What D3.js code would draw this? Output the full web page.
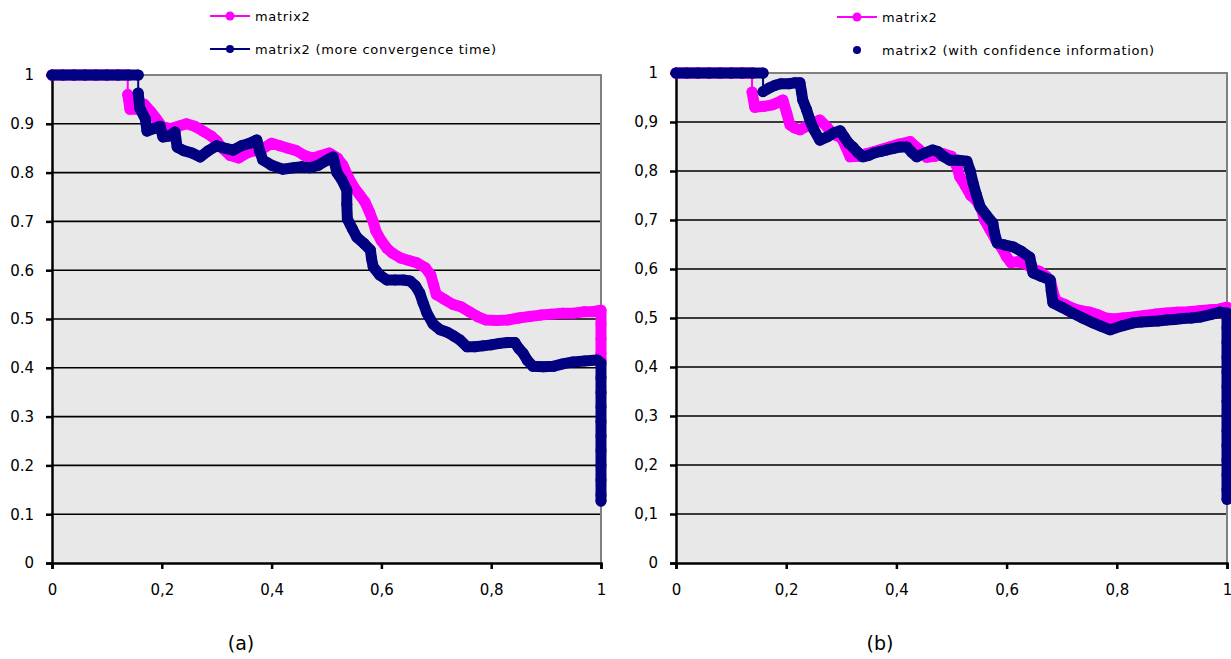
<!DOCTYPE html>
<html><head><meta charset="utf-8">
<script src="https://cdn.jsdelivr.net/npm/d3@7"></script>
<style>body{margin:0;background:#fff}svg{display:block}</style>
</head><body>
<svg id="fig" width="1231" height="659"></svg>
<script>
// Axis ticks and labels
const xTicks = [0, 0.2, 0.4, 0.6, 0.8, 1];
const xTickLabels = ["0", "0,2", "0,4", "0,6", "0,8", "1"];
const yTicks = [0, 0.1, 0.2, 0.3, 0.4, 0.5, 0.6, 0.7, 0.8, 0.9, 1];
const yTickLabelsA = ["0", "0.1", "0.2", "0.3", "0.4", "0.5", "0.6", "0.7", "0.8", "0.9", "1"];
const yTickLabelsB = ["0", "0,1", "0,2", "0,3", "0,4", "0,5", "0,6", "0,7", "0,8", "0,9", "1"];

// Panel (a): matrix2
const pinkA = [[0,1],[0.02,1],[0.04,1],[0.06,1],[0.08,1],[0.10,1],[0.12,1],[0.138,1],
  [0.138,0.96],[0.142,0.93],[0.155,0.93],[0.168,0.94],[0.18,0.925],[0.19,0.91],[0.2,0.895],
  [0.215,0.89],[0.23,0.895],[0.245,0.9],[0.26,0.895],[0.275,0.885],[0.29,0.875],[0.3,0.865],
  [0.31,0.85],[0.325,0.835],[0.34,0.83],[0.355,0.84],[0.37,0.845],[0.385,0.85],[0.4,0.86],
  [0.415,0.855],[0.43,0.85],[0.445,0.845],[0.46,0.835],[0.475,0.83],[0.49,0.835],[0.505,0.84],
  [0.52,0.83],[0.53,0.815],[0.54,0.79],[0.55,0.77],[0.56,0.755],[0.57,0.74],[0.578,0.72],
  [0.585,0.7],[0.59,0.68],[0.6,0.66],[0.61,0.645],[0.62,0.635],[0.635,0.625],[0.65,0.62],
  [0.665,0.615],[0.68,0.605],[0.69,0.59],[0.695,0.57],[0.7,0.55],[0.715,0.54],[0.73,0.53],
  [0.745,0.525],[0.76,0.515],[0.775,0.505],[0.79,0.498],[0.81,0.497],[0.83,0.498],[0.85,0.502],
  [0.87,0.505],[0.89,0.508],[0.91,0.51],[0.93,0.512],[0.95,0.512],[0.97,0.515],[0.985,0.515],
  [1,0.518],[1,0.49],[1,0.46],[1,0.43],[1,0.415]];

// Panel (a): matrix2 (more convergence time)
const navyA = [[0,1],[0.02,1],[0.04,1],[0.06,1],[0.08,1],[0.10,1],[0.12,1],[0.14,1],[0.157,1],
  [0.157,0.963],[0.16,0.932],[0.17,0.91],[0.173,0.885],[0.185,0.89],[0.197,0.895],[0.202,0.873],
  [0.213,0.875],[0.224,0.883],[0.228,0.852],[0.24,0.845],[0.255,0.84],[0.27,0.832],[0.285,0.845],
  [0.3,0.855],[0.315,0.85],[0.33,0.846],[0.345,0.855],[0.36,0.86],[0.373,0.867],[0.378,0.845],
  [0.384,0.826],[0.4,0.815],[0.42,0.807],[0.44,0.81],[0.455,0.812],[0.47,0.81],[0.485,0.815],
  [0.5,0.825],[0.512,0.832],[0.519,0.8],[0.528,0.785],[0.537,0.764],[0.537,0.735],[0.538,0.705],
  [0.547,0.685],[0.555,0.668],[0.568,0.655],[0.58,0.641],[0.582,0.624],[0.585,0.607],[0.597,0.59],
  [0.61,0.58],[0.625,0.58],[0.64,0.58],[0.652,0.578],[0.662,0.568],[0.67,0.553],[0.676,0.533],
  [0.683,0.512],[0.694,0.49],[0.707,0.478],[0.72,0.473],[0.732,0.465],[0.743,0.457],[0.756,0.443],
  [0.77,0.443],[0.785,0.445],[0.8,0.447],[0.815,0.45],[0.83,0.452],[0.843,0.452],[0.85,0.44],
  [0.858,0.43],[0.866,0.415],[0.876,0.403],[0.895,0.402],[0.913,0.403],[0.93,0.408],[0.949,0.412],
  [0.97,0.414],[0.993,0.416],[1,0.41],[1,0.38],[1,0.35],[1,0.32],[1,0.29],[1,0.26],[1,0.23],
  [1,0.2],[1,0.17],[1,0.14],[1,0.127]];

// Panel (b): matrix2
const pinkB = [[0,1],[0.02,1],[0.04,1],[0.06,1],[0.08,1],[0.10,1],[0.12,1],[0.138,1],
  [0.138,0.961],[0.143,0.93],[0.16,0.932],[0.175,0.935],[0.183,0.939],[0.194,0.945],[0.201,0.918],
  [0.207,0.894],[0.215,0.888],[0.225,0.884],[0.24,0.893],[0.25,0.898],[0.261,0.904],[0.274,0.89],
  [0.285,0.875],[0.3,0.868],[0.308,0.85],[0.316,0.829],[0.33,0.83],[0.345,0.835],[0.36,0.84],
  [0.375,0.845],[0.39,0.85],[0.405,0.855],[0.425,0.86],[0.44,0.845],[0.455,0.828],[0.47,0.83],
  [0.485,0.835],[0.5,0.83],[0.51,0.808],[0.515,0.788],[0.525,0.77],[0.535,0.75],[0.545,0.74],
  [0.555,0.72],[0.56,0.7],[0.57,0.68],[0.58,0.66],[0.59,0.645],[0.6,0.625],[0.608,0.613],
  [0.62,0.615],[0.635,0.61],[0.648,0.6],[0.66,0.595],[0.672,0.585],[0.68,0.575],[0.685,0.55],
  [0.69,0.535],[0.705,0.528],[0.72,0.52],[0.735,0.515],[0.75,0.512],[0.765,0.507],[0.78,0.5],
  [0.795,0.498],[0.81,0.5],[0.83,0.502],[0.85,0.505],[0.87,0.508],[0.89,0.51],[0.91,0.512],
  [0.93,0.513],[0.95,0.515],[0.97,0.517],[0.985,0.518],[1,0.522],[1,0.5]];

// Panel (b): matrix2 (with confidence information)
const navyB = [[0,1],[0.02,1],[0.04,1],[0.06,1],[0.08,1],[0.10,1],[0.12,1],[0.14,1],[0.158,1],
  [0.158,0.962],[0.17,0.97],[0.18,0.975],[0.19,0.978],[0.205,0.978],[0.215,0.98],[0.225,0.98],
  [0.228,0.96],[0.23,0.945],[0.237,0.925],[0.243,0.904],[0.25,0.885],[0.261,0.863],[0.275,0.87],
  [0.287,0.878],[0.298,0.882],[0.305,0.87],[0.313,0.857],[0.321,0.849],[0.33,0.838],[0.339,0.829],
  [0.35,0.832],[0.36,0.837],[0.372,0.84],[0.383,0.843],[0.395,0.846],[0.407,0.849],[0.419,0.849],
  [0.428,0.838],[0.437,0.829],[0.45,0.836],[0.466,0.843],[0.475,0.84],[0.485,0.83],[0.497,0.822],
  [0.512,0.822],[0.528,0.82],[0.534,0.8],[0.539,0.776],[0.545,0.752],[0.552,0.727],[0.563,0.71],
  [0.575,0.694],[0.578,0.674],[0.583,0.653],[0.597,0.649],[0.612,0.645],[0.627,0.636],[0.642,0.624],
  [0.645,0.608],[0.648,0.592],[0.663,0.585],[0.679,0.578],[0.681,0.555],[0.684,0.531],[0.7,0.522],
  [0.72,0.51],[0.738,0.5],[0.757,0.49],[0.772,0.483],[0.788,0.476],[0.81,0.484],[0.83,0.49],
  [0.845,0.492],[0.86,0.493],[0.875,0.494],[0.891,0.496],[0.905,0.497],[0.92,0.499],[0.935,0.5],
  [0.951,0.502],[0.97,0.507],[0.987,0.512],[1,0.51],
  [1,0.48],[1,0.45],[1,0.42],[1,0.39],[1,0.36],[1,0.33],[1,0.3],[1,0.27],[1,0.24],[1,0.21],
  [1,0.18],[1,0.15],[1,0.13]];

const PINK = "#ff00ff", NAVY = "#000080";
const FONT = "'DejaVu Sans', Verdana, sans-serif";
const svg = d3.select("#fig");

function drawPanel(p) {
  const x = d3.scaleLinear().domain([0, 1]).range([p.left, p.right]);
  const y = d3.scaleLinear().domain([0, 1]).range([p.bottom, p.top]);
  const g = svg.append("g");

  g.append("rect").attr("x", p.left).attr("y", p.top)
    .attr("width", p.right - p.left).attr("height", p.bottom - p.top)
    .attr("fill", "#e8e8e8");

  // horizontal gridlines
  g.selectAll(".grid").data(yTicks.filter(v => v > 0 && v < 1)).join("line")
    .attr("x1", p.left).attr("x2", p.right)
    .attr("y1", d => y(d)).attr("y2", d => y(d))
    .attr("stroke", "#000").attr("stroke-width", 1.6);

  // grey frame on top and right
  g.append("path")
    .attr("d", `M${p.left},${y(1)}H${p.right}V${p.bottom}`)
    .attr("fill", "none").attr("stroke", "#808080").attr("stroke-width", 2);

  // axes
  const yAxis = d3.axisLeft(y).tickValues(yTicks)
    .tickFormat((d, i) => p.yLabels[i]).tickSize(6).tickPadding(12);
  const xAxis = d3.axisBottom(x).tickValues(xTicks)
    .tickFormat((d, i) => xTickLabels[i]).tickSize(6).tickPadding(15);

  const ya = g.append("g").attr("transform", `translate(${p.left},0)`).call(yAxis);
  const xa = g.append("g").attr("transform", `translate(0,${p.bottom})`).call(xAxis);
  [ya, xa].forEach(a => {
    a.select(".domain").attr("stroke", "#000").attr("stroke-width", 2.5);
    a.selectAll(".tick line").attr("stroke", "#000").attr("stroke-width", 2.5);
    a.selectAll("text").attr("fill", "#000").style("font-family", FONT).style("font-size", "15px");
  });

  // series: thin connecting line, thick trail where markers overlap, markers
  const line = d3.line().x(d => x(d[0])).y(d => y(d[1]));
  [[p.pink, PINK], [p.navy, NAVY]].forEach(([data, col]) => {
    const sg = g.append("g");
    sg.append("path").attr("d", line(data)).attr("fill", "none")
      .attr("stroke", col).attr("stroke-width", 2);
    const runs = [];
    let cur = [data[0]];
    for (let i = 1; i < data.length; i++) {
      const dx = x(data[i][0]) - x(data[i - 1][0]);
      const dy = y(data[i][1]) - y(data[i - 1][1]);
      if (Math.hypot(dx, dy) > 17) { runs.push(cur); cur = [data[i]]; }
      else cur.push(data[i]);
    }
    runs.push(cur);
    runs.forEach(r => sg.append("path").attr("d", line(r)).attr("fill", "none")
      .attr("stroke", col).attr("stroke-width", 11)
      .attr("stroke-linejoin", "round").attr("stroke-linecap", "round"));
    sg.selectAll("circle").data(data).join("circle")
      .attr("cx", d => x(d[0])).attr("cy", d => y(d[1])).attr("r", 5.5).attr("fill", col);
  });

  // legend
  const lg = g.append("g").style("font-family", FONT).style("font-size", "13px");
  lg.append("line").attr("x1", p.legX).attr("x2", p.legX + 40)
    .attr("y1", p.legY1).attr("y2", p.legY1).attr("stroke", PINK).attr("stroke-width", 2);
  lg.append("circle").attr("cx", p.legX + 20).attr("cy", p.legY1).attr("r", 4.5).attr("fill", PINK);
  lg.append("text").attr("x", p.legX + 45).attr("y", p.legY1).attr("dy", "0.35em")
    .style("letter-spacing", "0.7px").text("matrix2");
  if (p.navyLine) {
    lg.append("line").attr("x1", p.legX).attr("x2", p.legX + 40)
      .attr("y1", p.legY2).attr("y2", p.legY2).attr("stroke", NAVY).attr("stroke-width", 2);
  }
  lg.append("circle").attr("cx", p.legX + 20).attr("cy", p.legY2).attr("r", 4).attr("fill", NAVY);
  lg.append("text").attr("x", p.legX + 45).attr("y", p.legY2).attr("dy", "0.35em")
    .style("letter-spacing", "0.7px").text(p.navyName);

  g.append("text").attr("x", p.capX).attr("y", 643).attr("dy", "0.35em")
    .attr("text-anchor", "middle").style("font-family", FONT).style("font-size", "19px")
    .text(p.caption);
}

drawPanel({left: 52, right: 601, top: 75, bottom: 563, yLabels: yTickLabelsA,
  pink: pinkA, navy: navyA, legX: 210, legY1: 16, legY2: 49, navyLine: true,
  navyName: "matrix2 (more convergence time)", capX: 241, caption: "(a)"});
drawPanel({left: 676, right: 1227, top: 73, bottom: 563, yLabels: yTickLabelsB,
  pink: pinkB, navy: navyB, legX: 837, legY1: 17, legY2: 50, navyLine: false,
  navyName: "matrix2 (with confidence information)", capX: 880, caption: "(b)"});
</script>
</body></html>
